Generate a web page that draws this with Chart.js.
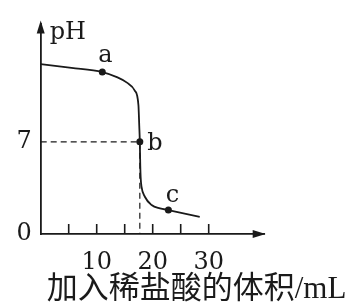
<!DOCTYPE html>
<html>
<head>
<meta charset="utf-8">
<script src="https://cdn.jsdelivr.net/npm/chart.js@4/dist/chart.umd.min.js"></script>
<style>
  html, body { margin: 0; padding: 0; background: #fff; }
  canvas { display: block; }
</style>
</head>
<body>
<canvas id="phChart" width="356" height="303"></canvas>
<script>
// titration curve (mL of acid vs pH)
const volumes = [0, 5.5, 11, 13.6, 15.4, 16.8, 17.45, 17.6, 17.7, 17.78, 17.85, 18.0, 18.6, 19.8, 21.3, 22.8, 28.4];
const phValues = [12.9, 12.62, 12.3, 11.92, 11.5, 10.9, 9.8, 8.2, 7.0, 5.2, 4.3, 3.6, 2.83, 2.2, 1.95, 1.82, 1.31];

const markerNames = ['a', 'b', 'c'];
const markerVolumes = [11, 17.7, 22.8];
const markerPh = [12.3, 7, 1.82];

const xTicks = [5, 10, 15, 20, 25, 30];
const xLabels = [10, 20, 30];
const yTicks = [0, 7];

const xTitle = '加入稀盐酸的体积/mL';
const yTitle = 'pH';

const serif = "'DejaVu Serif', 'Liberation Serif', serif";
const ink = '#1a1a1a';

const curve = volumes.map((v, i) => ({ x: v, y: phValues[i] }));
const markers = markerVolumes.map((v, i) => ({ x: v, y: markerPh[i] }));
const bx = markerVolumes[1], by = markerPh[1];
const guide = [{ x: 0, y: by }, { x: bx, y: by }, { x: bx, y: 0 }];
// short marks sitting on the volume axis (lower half is clipped away)
const tickMarks = xTicks.map(v => ({ x: v, y: 0 }));

const sketchPlugin = {
    id: 'sketch',
    afterDraw(chart) {
        const { ctx, chartArea, scales } = chart;
        const xs = scales.x, ys = scales.y;
        const ox = xs.getPixelForValue(0);
        const oy = ys.getPixelForValue(0);
        ctx.save();
        ctx.fillStyle = ink;

        // arrow heads
        ctx.beginPath();
        ctx.moveTo(ox, chartArea.top - 3);
        ctx.lineTo(ox - 4, chartArea.top + 10);
        ctx.lineTo(ox + 4, chartArea.top + 10);
        ctx.closePath();
        ctx.fill();
        ctx.beginPath();
        ctx.moveTo(chartArea.right + 1, oy);
        ctx.lineTo(chartArea.right - 12, oy - 4);
        ctx.lineTo(chartArea.right - 12, oy + 4);
        ctx.closePath();
        ctx.fill();

        // axis name
        ctx.font = '24px ' + serif;
        ctx.textAlign = 'left';
        ctx.textBaseline = 'alphabetic';
        ctx.fillText(yTitle, ox + 9, 39);

        // point names
        const offsets = { a: [3, -10], b: [15, 8], c: [4, -8] };
        const meta = chart.getDatasetMeta(2);
        ctx.textAlign = 'center';
        meta.data.forEach((pt, i) => {
            const name = markerNames[i];
            const off = offsets[name];
            ctx.fillText(name, pt.x + off[0], pt.y + off[1]);
        });

        // x title
        ctx.font = "31px 'Liberation Serif', 'Noto Sans CJK SC', sans-serif";
        ctx.textAlign = 'left';
        ctx.textBaseline = 'middle';
        ctx.fillText(xTitle, ox + 6, 290);
        ctx.restore();
    }
};

new Chart(document.getElementById('phChart'), {
    type: 'scatter',
    data: {
        datasets: [
            {
                data: curve,
                showLine: true,
                borderColor: ink,
                borderWidth: 1.8,
                pointRadius: 0,
                cubicInterpolationMode: 'monotone'
            },
            {
                data: guide,
                showLine: true,
                borderColor: ink,
                borderWidth: 1.2,
                borderDash: [6, 4],
                pointRadius: 0,
                tension: 0
            },
            {
                data: markers,
                showLine: false,
                pointRadius: 3.5,
                pointBackgroundColor: ink,
                pointBorderColor: ink,
                pointBorderWidth: 0
            },
            {
                data: tickMarks,
                showLine: false,
                pointStyle: 'line',
                pointRotation: 90,
                pointRadius: 10,
                pointBorderColor: ink,
                pointBorderWidth: 1.6,
                clip: 0
            }
        ]
    },
    options: {
        responsive: false,
        animation: false,
        devicePixelRatio: 1,
        layout: { padding: { top: 22.8, right: 91.3, left: 0, bottom: 0 } },
        plugins: { legend: { display: false }, tooltip: { enabled: false } },
        scales: {
            x: {
                type: 'linear',
                min: 0,
                max: 40,
                afterFit: s => { s.height = 69; },
                afterBuildTicks: s => { s.ticks = xTicks.map(v => ({ value: v })); },
                border: { display: true, color: ink, width: 1.8 },
                grid: { display: false, drawTicks: false },
                ticks: {
                    padding: 14.6,
                    color: ink,
                    maxRotation: 0,
                    autoSkip: false,
                    font: { family: serif, size: 24 },
                    callback: v => xLabels.includes(v) ? String(v) : ''
                }
            },
            y: {
                type: 'linear',
                min: 0,
                max: 16,
                afterFit: s => { s.width = 40.7; },
                afterBuildTicks: s => { s.ticks = yTicks.map(v => ({ value: v })); },
                border: { display: true, color: ink, width: 1.8 },
                grid: { display: false, drawTicks: false },
                ticks: {
                    padding: 9,
                    color: ink,
                    autoSkip: false,
                    font: { family: serif, size: 24 }
                }
            }
        }
    },
    plugins: [sketchPlugin]
});
</script>
</body>
</html>
